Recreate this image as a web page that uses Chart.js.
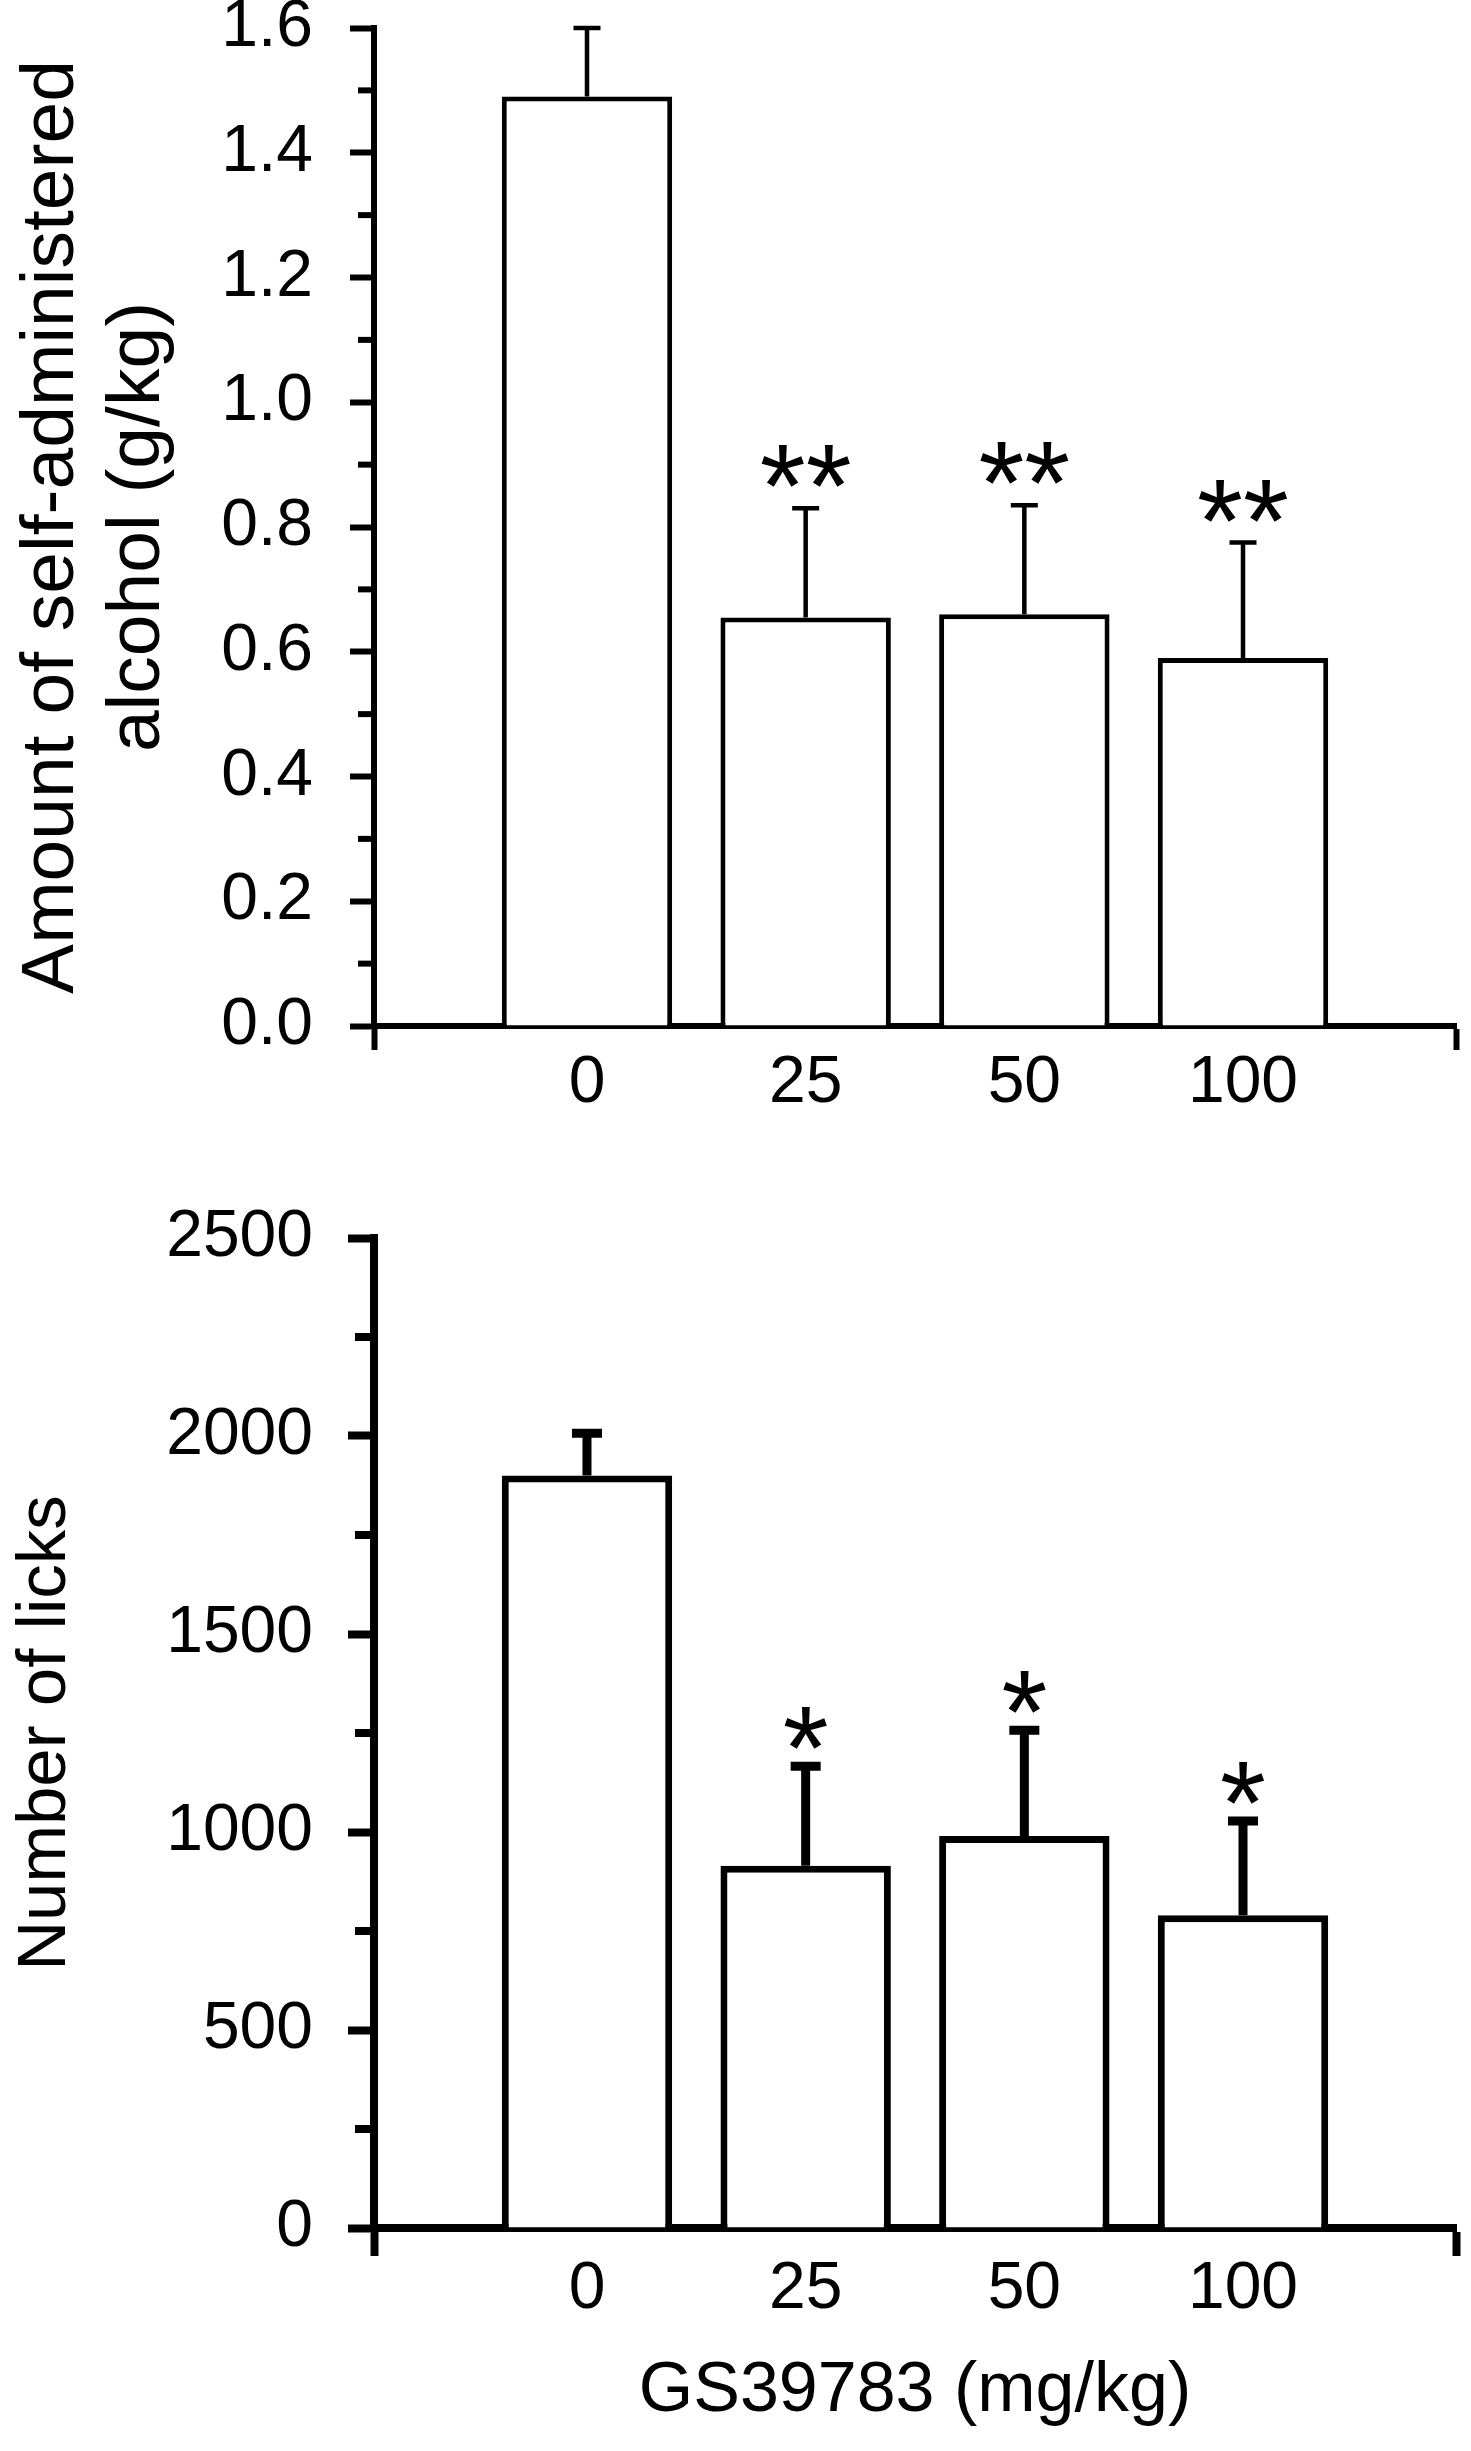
<!DOCTYPE html>
<html>
<head>
<meta charset="utf-8">
<script src="https://cdn.jsdelivr.net/npm/chart.js@4.4.0/dist/chart.umd.min.js"></script>
<style>
body { margin: 0; background: #fff; }
canvas { position: absolute; left: 0; }
</style>
</head>
<body>
<canvas id="alcohol" width="1471" height="1180" style="top:0"></canvas>
<canvas id="licks" width="1471" height="1271" style="top:1180px"></canvas>
<script>
const doses = ['0', '25', '50', '100'];

const alcoholMean = [1.49, 0.655, 0.66, 0.59];
const alcoholSem = [0.11, 0.175, 0.175, 0.185];
const alcoholStars = ['', '**', '**', '**'];
const alcoholTicks = [0, 0.2, 0.4, 0.6, 0.8, 1.0, 1.2, 1.4, 1.6];

const licksMean = [1900, 915, 990, 790];
const licksSem = [107, 251, 267, 238];
const licksStars = ['', '*', '*', '*'];
const licksTicks = [0, 500, 1000, 1500, 2000, 2500];

const FONT = '"Liberation Sans", Arial, sans-serif';

const errorBars = {
    id: 'errorBars',
    afterDatasetsDraw(chart, args, opts) {
        const ctx = chart.ctx;
        const y = chart.scales.y;
        ctx.save();
        ctx.strokeStyle = '#000';
        ctx.fillStyle = '#000';
        ctx.lineWidth = opts.width;
        chart.getDatasetMeta(0).data.forEach((bar, i) => {
            const top = y.getPixelForValue(opts.mean[i] + opts.sem[i]);
            ctx.beginPath();
            ctx.moveTo(bar.x, bar.y);
            ctx.lineTo(bar.x, top);
            ctx.moveTo(bar.x - opts.cap, top);
            ctx.lineTo(bar.x + opts.cap, top);
            ctx.stroke();
            if (opts.stars[i]) {
                ctx.font = '118px ' + FONT;
                ctx.textAlign = 'center';
                ctx.textBaseline = 'alphabetic';
                const m = ctx.measureText(opts.stars[i]);
                ctx.fillText(opts.stars[i], bar.x, top - opts.gap - m.actualBoundingBoxDescent);
            }
        });
        ctx.restore();
    }
};

const minorTicks = {
    id: 'minorTicks',
    afterDraw(chart, args, opts) {
        const ctx = chart.ctx;
        const s = chart.scales.y;
        const left = chart.chartArea.left;
        ctx.save();
        ctx.strokeStyle = '#000';
        ctx.lineWidth = opts.width;
        for (let i = 0; i < s.ticks.length - 1; i++) {
            const py = s.getPixelForValue((s.ticks[i].value + s.ticks[i + 1].value) / 2);
            ctx.beginPath();
            ctx.moveTo(left - opts.length, py);
            ctx.lineTo(left, py);
            ctx.stroke();
        }
        ctx.restore();
    }
};

function noPad(s) {
    s.paddingTop = 0;
    s.paddingBottom = 0;
    s.paddingLeft = 0;
    s.paddingRight = 0;
}

function makeChart(id, p) {
    return new Chart(document.getElementById(id), {
        type: 'bar',
        data: {
            datasets: [{
                data: p.mean.map((v, i) => ({x: i, y: v})),
                backgroundColor: '#fff',
                borderColor: '#000',
                borderWidth: p.barLine,
                barPercentage: 0.8,
                categoryPercentage: 1
            }]
        },
        options: {
            responsive: false,
            animation: false,
            devicePixelRatio: 1,
            layout: {
                autoPadding: false,
                padding: {top: p.top, right: 15, bottom: 0, left: 0}
            },
            scales: {
                x: {
                    type: 'linear',
                    offset: false,
                    min: -0.974,
                    max: 3.974,
                    z: 1,
                    afterBuildTicks: s => {
                        s.ticks = [s.min].concat(doses.map((d, i) => i), [s.max]).map(v => ({value: v}));
                    },
                    afterFit: s => { s.height = p.xHeight; noPad(s); },
                    grid: {
                        offset: false,
                        drawOnChartArea: false,
                        tickLength: p.xTick,
                        tickWidth: p.axisLine,
                        tickColor: c => (c.tick && Number.isInteger(c.tick.value)) ? 'rgba(0,0,0,0)' : '#000'
                    },
                    border: {color: '#000', width: p.axisLine},
                    ticks: {
                        color: '#000',
                        font: {family: FONT, size: 66},
                        padding: p.xPad,
                        maxRotation: 0,
                        autoSkip: false,
                        callback: v => Number.isInteger(v) ? doses[v] : ''
                    },
                    title: {
                        display: !!p.xTitle,
                        text: p.xTitle || '',
                        color: '#000',
                        font: {family: FONT, size: 70},
                        padding: {top: 0, bottom: 17}
                    }
                },
                y: {
                    min: 0,
                    max: p.ticks[p.ticks.length - 1],
                    z: 1,
                    afterBuildTicks: s => { s.ticks = p.ticks.map(v => ({value: v})); },
                    afterFit: s => { s.width = 374; noPad(s); },
                    grid: {
                        drawOnChartArea: false,
                        tickLength: p.yTick,
                        tickWidth: p.axisLine,
                        tickColor: '#000'
                    },
                    border: {color: '#000', width: p.axisLine},
                    ticks: {
                        color: '#000',
                        font: {family: FONT, size: 66},
                        padding: p.yPad,
                        callback: p.fmt
                    },
                    title: {
                        display: true,
                        text: p.yTitle,
                        color: '#000',
                        font: {family: FONT, size: p.yTitleSize, lineHeight: 1.15},
                        padding: {top: p.yTitlePad, bottom: 0}
                    }
                }
            },
            plugins: {
                legend: {display: false},
                tooltip: {enabled: false},
                errorBars: {mean: p.mean, sem: p.sem, stars: p.stars, width: p.errLine, cap: p.cap, gap: p.gap},
                minorTicks: {width: p.axisLine, length: p.minor}
            }
        },
        plugins: [errorBars, minorTicks]
    });
}

makeChart('alcohol', {
    mean: alcoholMean, sem: alcoholSem, stars: alcoholStars, ticks: alcoholTicks,
    fmt: v => v.toFixed(1),
    yTitle: ['Amount of self-administered', 'alcohol (g/kg)'],
    yTitleSize: 75, yTitlePad: 9,
    top: 28, xHeight: 1180 - 1026,
    axisLine: 6, barLine: 5, errLine: 4.5, cap: 13.5, gap: 21,
    xTick: 24, yTick: 24, minor: 16, xPad: -6, yPad: 37
});

makeChart('licks', {
    mean: licksMean, sem: licksSem, stars: licksStars, ticks: licksTicks,
    fmt: v => String(v),
    yTitle: 'Number of licks',
    yTitleSize: 69, yTitlePad: 6,
    xTitle: 'GS39783 (mg/kg)',
    top: 58, xHeight: 1271 - 1048,
    axisLine: 8, barLine: 7, errLine: 9, cap: 15, gap: 17,
    xTick: 28, yTick: 26, minor: 19, xPad: -6, yPad: 35
});
</script>
</body>
</html>
